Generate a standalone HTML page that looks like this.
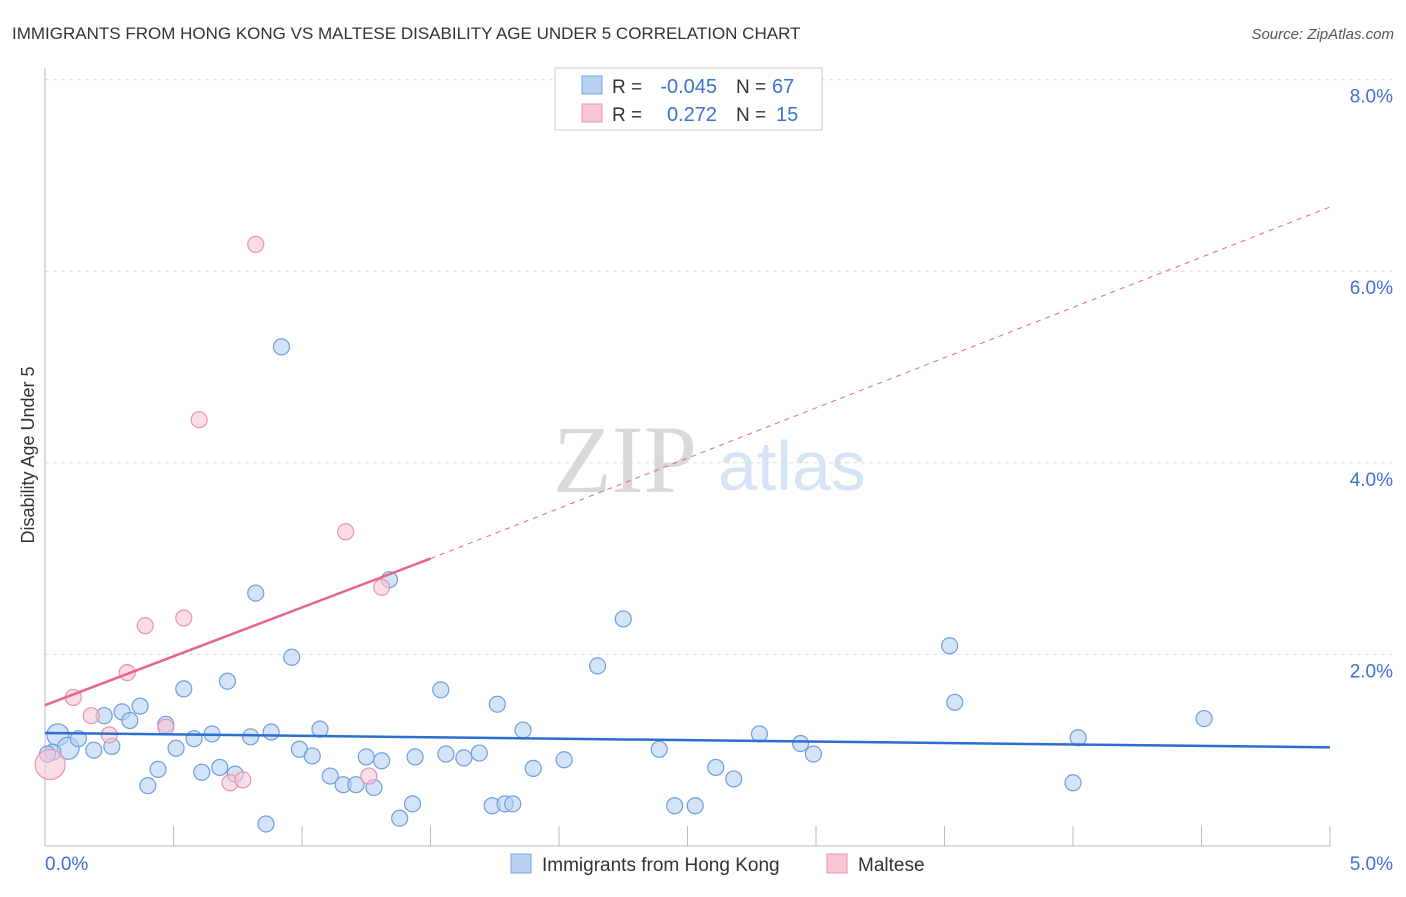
<!DOCTYPE html>
<html><head><meta charset="utf-8"><style>
body{margin:0;background:#fff;font-family:"Liberation Sans",sans-serif;}
</style></head><body>
<svg id="chart" width="1406" height="892" xmlns="http://www.w3.org/2000/svg" font-family="Liberation Sans, sans-serif">
<text x="12" y="39" font-size="17" fill="#333">IMMIGRANTS FROM HONG KONG VS MALTESE DISABILITY AGE UNDER 5 CORRELATION CHART</text>
<text x="1394" y="39" font-size="15" fill="#555" text-anchor="end" font-style="italic">Source: ZipAtlas.com</text>
<text x="553" y="492" font-size="96" fill="#d9d9d9" style="font-family:'Liberation Serif',serif">ZIP</text>
<text x="718" y="490" font-size="70" fill="#d6e4f5">atlas</text>
<g id="grid"></g><g id="axes"></g><g id="marks"></g>
<text transform="translate(34,455) rotate(-90)" font-size="18" fill="#333" text-anchor="middle">Disability Age Under 5</text>
<g>
<rect x="555" y="68" width="267" height="62" fill="#fff" stroke="#ccc"/>
<rect x="582" y="76" width="20" height="18" fill="#b7d1f3" stroke="#7aa6e0"/>
<rect x="582" y="104" width="20" height="18" fill="#f9c6d4" stroke="#eb94ae"/>
<text x="612" y="93" font-size="19" fill="#333">R =</text>
<text x="717" y="93" font-size="20" fill="#3b73cf" text-anchor="end">-0.045</text>
<text x="736" y="93" font-size="19" fill="#333">N =</text>
<text x="772" y="93" font-size="20" fill="#3b73cf">67</text>
<text x="612" y="121" font-size="19" fill="#333">R =</text>
<text x="717" y="121" font-size="20" fill="#3b73cf" text-anchor="end">0.272</text>
<text x="736" y="121" font-size="19" fill="#333">N =</text>
<text x="776" y="121" font-size="20" fill="#3b73cf">15</text>
</g>
<g>
<rect x="511" y="854" width="20" height="19" fill="#b7d1f3" stroke="#7aa6e0"/>
<text x="542" y="871" font-size="19" fill="#333">Immigrants from Hong Kong</text>
<rect x="827" y="854" width="20" height="19" fill="#f9c6d4" stroke="#eb94ae"/>
<text x="858" y="871" font-size="19" fill="#333">Maltese</text>
</g>
</svg>
<script>
const yTicks=[2,4,6,8];
const xTickLabels=["0.0%","5.0%"];
const blueX=[0.05,0.09,0.13,0.03,0.19,0.23,0.26,0.30,0.33,0.37,0.40,0.44,0.47,0.51,0.54,0.58,0.61,0.65,0.68,0.71,0.74,0.80,0.82,0.86,0.88,0.92,0.96,0.99,1.04,1.07,1.11,1.16,1.21,1.25,1.28,1.31,1.34,1.38,1.43,1.44,1.54,1.56,1.63,1.69,1.74,1.76,1.79,1.82,1.86,1.90,2.02,2.15,2.25,2.39,2.45,2.53,2.61,2.68,2.78,2.94,2.99,3.52,3.54,4.00,4.02,4.51,0.01];
const blueY=[1.16,1.02,1.12,0.98,1.00,1.36,1.04,1.40,1.31,1.46,0.63,0.80,1.27,1.02,1.64,1.12,0.77,1.17,0.82,1.72,0.75,1.14,2.64,0.23,1.19,5.21,1.97,1.01,0.94,1.22,0.73,0.64,0.64,0.93,0.61,0.89,2.78,0.29,0.44,0.93,1.63,0.96,0.92,0.97,0.42,1.48,0.44,0.44,1.21,0.81,0.90,1.88,2.37,1.01,0.42,0.42,0.82,0.70,1.17,1.07,0.96,2.09,1.50,0.66,1.13,1.33,0.96];
const pinkX=[0.02,0.11,0.18,0.25,0.32,0.39,0.47,0.54,0.60,0.72,0.77,0.82,1.17,1.26,1.31];
const pinkY=[0.85,1.55,1.36,1.16,1.81,2.30,1.24,2.38,4.45,0.66,0.69,6.28,3.28,0.73,2.70];
const blueTrend=[1.18,1.03];
const pinkTrend=[1.47,3.0,6.67];
const NS="http://www.w3.org/2000/svg";
const xs=v=>45+v*257, ys=v=>846-v*95.8;
function mk(tag,attrs,parent){const e=document.createElementNS(NS,tag);for(const k in attrs)e.setAttribute(k,attrs[k]);document.getElementById(parent).appendChild(e);return e;}
yTicks.forEach(t=>{
 const l=mk('line',{x1:45,x2:1392,y1:ys(t),y2:ys(t),stroke:'#ddd','stroke-dasharray':'4,4'},'grid');
 
 
 const tx=mk('text',{x:1393,y:ys(t)+23,'font-size':19,fill:'#3b73cf','text-anchor':'end'},'grid');
 tx.textContent=t.toFixed(1)+'%';
 
 
});
mk('line',{x1:45,x2:45,y1:68,y2:846,stroke:'#bbb'},'axes');
mk('line',{x1:45,x2:1330,y1:846,y2:846,stroke:'#bbb'},'axes');
for(let i=1;i<=10;i++){const t=mk('line',{x1:xs(i*0.5),x2:xs(i*0.5),y1:826,y2:846,stroke:'#bbb'},'axes');
 
 }
[[0,'start',45],[5,'end',1393]].forEach((d,i)=>{const t=mk('text',{x:d[2],y:870,'font-size':19,fill:'#3b73cf','text-anchor':d[1]},'axes');t.textContent=xTickLabels[i];
 
 });
blueX.forEach((x,i)=>{const c=mk('circle',{cx:xs(x),cy:ys(blueY[i]),r:(i<2?11:8),fill:'rgba(183,209,243,0.6)',stroke:'#6f9fde','stroke-width':1.2},'marks');
 
 });
pinkX.forEach((x,i)=>{const c=mk('circle',{cx:xs(x),cy:ys(pinkY[i]),r:(i==0?15:8),fill:'rgba(249,198,212,0.6)',stroke:'#eb94ae','stroke-width':1.2},'marks');
 
 });
const bl=mk('line',{x1:xs(0),y1:ys(blueTrend[0]),x2:xs(5),y2:ys(blueTrend[1]),stroke:'#2b6fd1','stroke-width':2.5},'marks');


const pl=mk('line',{x1:xs(0),y1:ys(pinkTrend[0]),x2:xs(1.5),y2:ys(pinkTrend[1]),stroke:'#e8648e','stroke-width':2.5},'marks');


const pd=mk('line',{x1:xs(1.5),y1:ys(pinkTrend[1]),x2:xs(5),y2:ys(pinkTrend[2]),stroke:'#e8648e','stroke-width':1,'stroke-dasharray':'5,5'},'marks');


</script>
</body></html>
